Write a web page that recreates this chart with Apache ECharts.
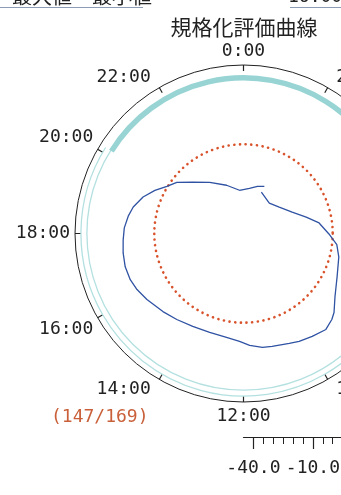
<!DOCTYPE html>
<html>
<head>
<meta charset="utf-8">
<script src="https://cdn.jsdelivr.net/npm/echarts@6/dist/echarts.min.js"></script>
<style>
  html, body { margin: 0; padding: 0; background: #ffffff; }
  #chart { width: 341px; height: 495px; }
</style>
</head>
<body>
<div id="chart"></div>
<script>
// Normalised evaluation curve: time of day (hours) and level
const curveHours = [
  1.56, 2.69, 3.57, 4.42, 5.02, 5.47, 6.02, 6.45, 6.92, 7.65,
  8.31, 8.74, 8.95, 9.29, 9.75, 10.18, 10.49, 11.05, 11.37, 11.79,
  12.14, 12.62, 13.26, 13.91, 14.52, 15.06, 15.71, 16.15, 16.52, 16.95,
  17.39, 17.79, 18.18, 18.57, 18.90, 19.33, 19.73, 20.11, 20.50, 21.02,
  21.77, 22.71, 23.65, 0.50, 1.10, 1.59
];
const curveLevels = [
  -22.3, -24.9, -22.6, -18.2, -12.3, -6.5, -1.9, 2.4, 4.5, 7.0,
  11.1, 15.6, 17.2, 18.8, 17.4, 16.2, 15.0, 13.7, 13.2, 11.5,
  9.5, 8.1, 7.7, 8.4, 9.9, 11.6, 14.0, 15.7, 16.7, 17.0,
  16.5, 15.8, 15.2, 13.8, 12.2, 8.9, 4.7, 0.4, -2.6, -8.6,
  -14.1, -19.2, -23.1, -22.0, -20.2, -19.0
];

// Reference level (dotted circle): [level, start hour, end hour]
const referenceRing = [[0, 0, 24]];
// Coverage rings: [level, start hour, end hour]
const outerRing = [[37, 4, 20.13]];
const innerRing = [[34, 0, 24]];
const coveredArc = [[33.5, 20.13, 4]];

// Axis ranges and tick labels
const levelMin = -45;
const levelMax = 40;
const hourLabels = ['0:00', '2:00', '4:00', '6:00', '8:00', '10:00',
                    '12:00', '14:00', '16:00', '18:00', '20:00', '22:00'];
const scaleMinorTicks = [-40, -35, -30, -25, -20, -15, -10, -5, 0, 5, 10, 15, 20, 25, 30, 35, 40];
const scaleMajorTicks = [-40, -10, 20];

const countText = '(147/169)';
const titleText = '規格化評価曲線';

const monoFont = '"DejaVu Sans Mono", "Liberation Mono", monospace';
const cjkFont = '"Noto Sans CJK JP", "Noto Sans", sans-serif';
const ink = '#222222';

// Draws an arc (or full circle) at a constant level between two hours
function makeRingRenderer(style) {
  return function (params, api) {
    const cs = params.coordSys;
    const level = api.value(0);
    const h0 = api.value(1);
    const h1 = api.value(2);
    const p0 = api.coord([level, h0]);
    const p1 = api.coord([level, h1]);
    const r = Math.hypot(p0[0] - cs.cx, p0[1] - cs.cy);
    if (Math.abs(h1 - h0) >= 24) {
      return {
        type: 'circle',
        shape: { cx: cs.cx, cy: cs.cy, r: r },
        style: Object.assign({ fill: 'none' }, style),
        silent: true
      };
    }
    const a0 = Math.atan2(p0[1] - cs.cy, p0[0] - cs.cx);
    const a1 = Math.atan2(p1[1] - cs.cy, p1[0] - cs.cx);
    return {
      type: 'arc',
      shape: { cx: cs.cx, cy: cs.cy, r: r, startAngle: a0, endAngle: a1, clockwise: true },
      style: Object.assign({ fill: 'none' }, style),
      silent: true
    };
  };
}

const chart = echarts.init(document.getElementById('chart'), null, { renderer: 'canvas' });

chart.setOption({
  animation: false,
  backgroundColor: '#ffffff',
  polar: {
    center: [243.5, 233.5],
    radius: [0, 168.5]
  },
  angleAxis: {
    type: 'value',
    min: 0,
    max: 24,
    interval: 2,
    startAngle: 90,
    clockwise: true,
    axisLine: { lineStyle: { color: ink, width: 1 } },
    axisTick: { show: true, inside: true, length: 6, lineStyle: { color: ink, width: 1.2 } },
    splitLine: { show: false },
    axisLabel: {
      margin: 5,
      color: ink,
      fontFamily: monoFont,
      fontSize: 18,
      formatter: function (v) {
        const idx = Math.round(v / 2) % 12;
        const text = hourLabels[idx];
        if (idx === 11 || idx === 7) return '{l|' + text + '}';
        if (idx === 1 || idx === 5) return '{r|' + text + '}';
        return text;
      },
      rich: {
        l: { fontFamily: monoFont, fontSize: 18, color: ink, lineHeight: 12, padding: [0, 6, 0, 0] },
        r: { fontFamily: monoFont, fontSize: 18, color: ink, lineHeight: 12, padding: [0, 0, 0, 6] }
      }
    }
  },
  radiusAxis: {
    type: 'value',
    min: levelMin,
    max: levelMax,
    axisLine: { show: false },
    axisTick: { show: false },
    axisLabel: { show: false },
    splitLine: { show: false }
  },
  grid: {
    left: 243.5,
    width: 168.5,
    top: 400,
    height: 37,
    containLabel: false,
    outerBoundsMode: 'none'
  },
  xAxis: [
    {
      type: 'value',
      min: levelMin,
      max: levelMax,
      position: 'bottom',
      axisLine: { onZero: false, lineStyle: { color: ink, width: 1.2 } },
      axisTick: { customValues: scaleMinorTicks, length: 7, lineStyle: { color: ink, width: 1 } },
      axisLabel: { show: false },
      splitLine: { show: false }
    },
    {
      type: 'value',
      min: levelMin,
      max: levelMax,
      position: 'bottom',
      axisLine: { show: false, onZero: false },
      axisTick: { customValues: scaleMajorTicks, length: 12, lineStyle: { color: ink, width: 1.2 } },
      axisLabel: {
        customValues: scaleMajorTicks,
        margin: 22,
        color: ink,
        fontFamily: monoFont,
        fontSize: 18,
        hideOverlap: false,
        showMinLabel: true,
        formatter: function (v) { return v.toFixed(1); }
      },
      splitLine: { show: false }
    }
  ],
  yAxis: { type: 'value', show: false },
  series: [
    {
      type: 'custom',
      coordinateSystem: 'polar',
      renderItem: makeRingRenderer({ stroke: '#b4e0e0', lineWidth: 1.3 }),
      data: outerRing,
      z: 1
    },
    {
      type: 'custom',
      coordinateSystem: 'polar',
      renderItem: makeRingRenderer({ stroke: '#b4e0e0', lineWidth: 1.3 }),
      data: innerRing,
      z: 1
    },
    {
      type: 'custom',
      coordinateSystem: 'polar',
      renderItem: makeRingRenderer({ stroke: '#98d4d4', lineWidth: 5.5, lineCap: 'butt' }),
      data: coveredArc,
      z: 2
    },
    {
      type: 'custom',
      coordinateSystem: 'polar',
      renderItem: makeRingRenderer({ stroke: '#d8532c', lineWidth: 2.6, lineDash: [0.1, 5.6], lineCap: 'round' }),
      data: referenceRing,
      z: 3
    },
    {
      type: 'line',
      coordinateSystem: 'polar',
      data: curveHours.map(function (h, i) { return [curveLevels[i], h]; }),
      showSymbol: false,
      symbol: 'none',
      lineStyle: { color: '#2f52a3', width: 1.3 },
      z: 4
    }
  ],
  graphic: [
    {
      type: 'line',
      shape: { x1: 0, y1: 7.5, x2: 143, y2: 7.5 },
      style: { stroke: '#8c9cb4', lineWidth: 1 }
    },
    {
      type: 'line',
      shape: { x1: 290, y1: 7.5, x2: 341, y2: 7.5 },
      style: { stroke: '#8c9cb4', lineWidth: 1 }
    },
    {
      type: 'text',
      x: 12,
      y: 6,
      style: { text: '最大値　最小値', fontFamily: cjkFont, fontSize: 20, fill: ink, align: 'left', verticalAlign: 'bottom' }
    },
    {
      type: 'text',
      x: 288,
      y: 6,
      style: { text: '16:00', fontFamily: monoFont, fontSize: 18, fill: ink, align: 'left', verticalAlign: 'bottom' }
    },
    {
      type: 'text',
      x: 244,
      y: 27,
      style: { text: titleText, fontFamily: cjkFont, fontSize: 21, fill: ink, align: 'center', verticalAlign: 'middle' }
    },
    {
      type: 'text',
      x: 51,
      y: 417,
      style: { text: countText, fontFamily: monoFont, fontSize: 18, fill: '#c9603a', align: 'left', verticalAlign: 'middle' }
    }
  ]
});
</script>
</body>
</html>
